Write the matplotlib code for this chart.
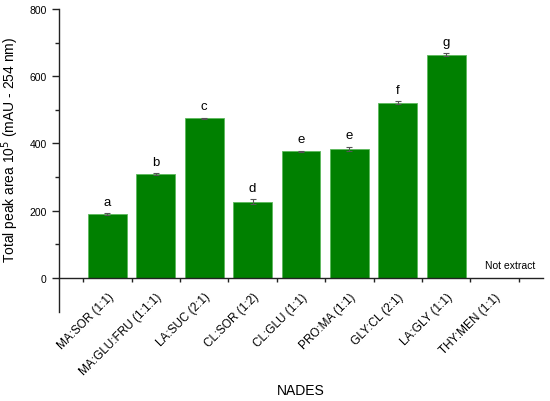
import numpy as np
import matplotlib
matplotlib.use("Agg")
import matplotlib.pyplot as plt

plt.rcParams['font.family'] = ['Liberation Sans', 'DejaVu Sans']

categories = ["MA:SOR (1:1)", "MA:GLU:FRU (1:1:1)", "LA:SUC (2:1)", "CL:SOR (1:2)",
              "CL:GLU (1:1)", "PRO:MA (1:1)", "GLY:CL (2:1)", "LA:GLY (1:1)", "THY:MEN (1:1)"]
values = [190, 309, 475, 227, 377, 384, 521, 664]
errors = [2, 3, 2, 8, 2, 7, 4, 5]
letters = ["a", "b", "c", "d", "e", "e", "f", "g"]
missing_label = "Not extract"

fig = plt.figure(figsize=(5.5, 4.02), dpi=100)
ax = fig.add_axes([59/550, (402-312.6)/402, (543-59)/550, (312.6-10)/402])

x = np.arange(1, len(categories) + 1)
xb = x[:len(values)]
ax.bar(xb, values, width=0.8, color='#008000', edgecolor='#5cb85c', linewidth=0.6, zorder=2)
ax.errorbar(xb, values, yerr=errors, fmt='none', ecolor='#555555', elinewidth=0.8,
            capsize=2.5, capthick=0.8, zorder=3)
for xi, v, e, t in zip(xb, values, errors, letters):
    ax.annotate(t, (xi, v + e), xytext=(0, 6), textcoords='offset points',
                ha='center', va='baseline', fontsize=9.5)

ax.text(x[-1] + 0.33, 39, missing_label, ha='center', va='center', fontsize=7.5)

ax.set_xlim(0, 10)
ax.set_ylim(-100, 800)
ax.spines['top'].set_visible(False)
ax.spines['right'].set_visible(False)
ax.spines['bottom'].set_position(('data', 0))
for s in ['left', 'bottom']:
    ax.spines[s].set_color('#222222')
    ax.spines[s].set_linewidth(1.0)

ax.set_yticks([0, 200, 400, 600, 800])
ax.set_yticks([100, 300, 500, 700], minor=True)
ax.tick_params(axis='y', which='major', length=5, width=1, labelsize=7.5, color='#222222', pad=4)
ax.tick_params(axis='y', which='minor', length=3, width=1, color='#222222')

ax.set_xticks(x)
ax.set_xticklabels(categories, rotation=45, ha='right', rotation_mode='anchor', fontsize=8.5)
ax.set_xticks(np.arange(0.5, 10, 1.0), minor=True)
ax.tick_params(axis='x', which='major', length=0, pad=9)
ax.tick_params(axis='x', which='minor', length=3, width=1, color='#222222')

ax.set_ylabel("Total peak area 10$^5$ (mAU - 254 nm)", fontsize=10)
ax.yaxis.set_label_coords(-0.078, 0.537)
fig.text(301/550, 1 - 391/402, "NADES", ha='center', va='center', fontsize=10)

fig.savefig("out.png", dpi=100)
